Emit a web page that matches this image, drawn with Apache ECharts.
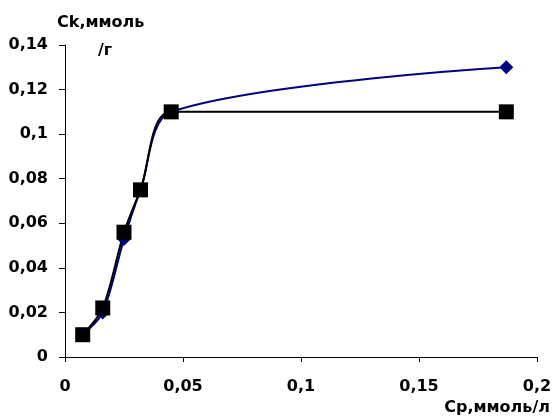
<!DOCTYPE html>
<html>
<head>
<meta charset="utf-8">
<script src="https://cdn.jsdelivr.net/npm/echarts@6/dist/echarts.min.js"></script>
<style>
  html, body { margin: 0; padding: 0; background: #fff; }
  #chart { width: 555px; height: 418px; }
</style>
</head>
<body>
<div id="chart"></div>
<script>
// Ср, ммоль/л
var cp = [0.0075, 0.016, 0.025, 0.032, 0.045, 0.187];
// Ck, ммоль/г  (синяя и чёрная кривые)
var ckBlue = [0.010, 0.020, 0.053, 0.075, 0.110, 0.130];
var ckBlack = [0.010, 0.022, 0.056, 0.075, 0.110, 0.110];

function pairs(xs, ys) {
  return xs.map(function (x, i) { return [x, ys[i]]; });
}
function comma(v) { return String(+v.toFixed(3)).replace('.', ','); }

var font = 'DejaVu Sans';
var txt = { fontFamily: font, fontSize: 16, fontWeight: 'bold', color: '#000' };
var myChart = echarts.init(document.getElementById('chart'));

var option = {
  animation: false,
  title: [
    { text: 'Ck,ммоль', left: 52, top: 10, textStyle: txt },
    { text: '/г', left: 93, top: 38, textStyle: txt }
  ],
  grid: { left: 65, right: 18, top: 45, bottom: 61 },
  xAxis: {
    type: 'value',
    min: 0, max: 0.2, interval: 0.05,
    name: 'Ср,ммоль/л',
    nameLocation: 'end',
    nameGap: 13,
    nameTextStyle: Object.assign({ align: 'right', verticalAlign: 'top', padding: [43, 0, 0, 0] }, txt),
    axisLine: { lineStyle: { color: '#000', width: 1 } },
    axisTick: { inside: false, length: 5, lineStyle: { color: '#000' } },
    axisLabel: Object.assign({ margin: 22, formatter: comma }, txt),
    splitLine: { show: false }
  },
  yAxis: {
    type: 'value',
    min: 0, max: 0.14, interval: 0.02,
    axisLine: { show: true, lineStyle: { color: '#000', width: 1 } },
    axisTick: { show: true, length: 6, lineStyle: { color: '#000' } },
    axisLabel: Object.assign({ margin: 17, formatter: comma }, txt),
    splitLine: { show: false }
  },
  series: [
    {
      type: 'line',
      data: pairs(cp, ckBlue),
      smooth: 0.3,
      symbol: 'diamond',
      symbolSize: 14,
      itemStyle: { color: '#000080' },
      lineStyle: { color: '#000080', width: 2 }
    },
    {
      type: 'line',
      data: pairs(cp, ckBlack),
      smooth: 0.3,
      symbol: 'rect',
      symbolSize: 15,
      itemStyle: { color: '#000' },
      lineStyle: { color: '#000', width: 2 }
    }
  ]
};

myChart.setOption(option);
</script>
</body>
</html>
